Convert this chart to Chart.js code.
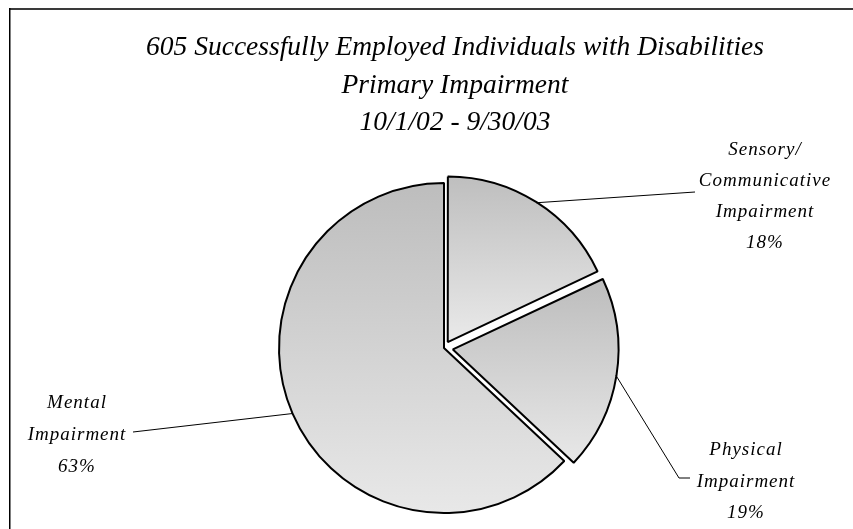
<!DOCTYPE html>
<html>
<head>
<meta charset="utf-8">
<script src="https://cdn.jsdelivr.net/npm/chart.js@4/dist/chart.umd.min.js"></script>
<style>
  html, body { margin: 0; background: #fff; overflow: hidden; }
  canvas { display: block; }
</style>
</head>
<body>
<canvas id="pie" width="853" height="529"></canvas>
<script>
// data
const TITLE_LINES = [
  '605 Successfully Employed Individuals with Disabilities',
  'Primary Impairment',
  '10/1/02 - 9/30/03',
];
const CATEGORIES = ['Sensory/ Communicative Impairment', 'Physical Impairment', 'Mental Impairment'];
const LABEL_LINES = [
  ['Sensory/', 'Communicative', 'Impairment'],
  ['Physical', 'Impairment'],
  ['Mental', 'Impairment'],
];
const PERCENTS = [18, 19, 63];

// look
const FONT = '"Liberation Serif", "Times New Roman", serif';
const SLICE_OFFSET = [28, 36, 0];   // explode (chart.js moves a slice by offset/4)
const GRAD_TOP = '#bdbdbd';
const GRAD_BOTTOM = '#e8e8e8';
// label blocks: centre x, first baseline, line gap, where the leader ends
const LABEL_BOX = [
  { x: 765, y: 155, gap: 31, end: [[695, 192]] },
  { x: 746, y: 455, gap: 31.5, end: [[679, 478], [690, 478]] },
  { x: 77, y: 408, gap: 32, end: [[133, 432]] },
];

// every slice gets its own top-to-bottom gradient
function sliceGradient(ctx) {
  const el = ctx.element;
  if (!el || !el.outerRadius) return GRAD_BOTTOM;
  const mid = (el.startAngle + el.endAngle) / 2;
  const cy = el.y + Math.sin(mid) * SLICE_OFFSET[ctx.dataIndex] / 4;
  let top = cy, bottom = cy;
  for (let k = 0; k <= 60; k++) {
    const a = el.startAngle + (el.endAngle - el.startAngle) * k / 60;
    const y = cy + Math.sin(a) * el.outerRadius;
    top = Math.min(top, y);
    bottom = Math.max(bottom, y);
  }
  const g = ctx.chart.ctx.createLinearGradient(0, top, 0, bottom);
  g.addColorStop(0, GRAD_TOP);
  g.addColorStop(1, GRAD_BOTTOM);
  return g;
}

const frameAndText = {
  id: 'frameAndText',
  beforeDraw(chart) {
    const c = chart.ctx;
    c.save();
    c.fillStyle = '#fff';
    c.fillRect(0, 0, chart.width, chart.height);
    c.restore();
  },
  afterDraw(chart) {
    const c = chart.ctx;
    c.save();
    // frame: grey top edge, black left edge (right/bottom fall outside the window)
    c.fillStyle = '#3a3a3a';
    c.fillRect(9, 8, chart.width, 2);
    c.fillStyle = '#000';
    c.fillRect(9, 8, 1.5, chart.height);

    // title
    c.fillStyle = '#000';
    c.textAlign = 'center';
    c.textBaseline = 'middle';
    c.font = `italic 27.5px ${FONT}`;
    TITLE_LINES.forEach((t, i) => c.fillText(t, 455, 48 + i * 37.5));

    // labels + leaders
    const meta = chart.getDatasetMeta(0);
    c.font = `italic 19px ${FONT}`;
    c.textBaseline = 'alphabetic';
    c.letterSpacing = '1px';
    meta.data.forEach((el, i) => {
      const mid = (el.startAngle + el.endAngle) / 2;
      const t = SLICE_OFFSET[i] / 4;
      const sx = el.x + Math.cos(mid) * (t + el.outerRadius);
      const sy = el.y + Math.sin(mid) * (t + el.outerRadius);
      const box = LABEL_BOX[i];
      c.strokeStyle = '#000';
      c.lineWidth = 1;
      c.beginPath();
      c.moveTo(sx, sy);
      box.end.forEach(([x, y]) => c.lineTo(x, y));
      c.stroke();
      const lines = [...LABEL_LINES[i], PERCENTS[i] + '%'];
      lines.forEach((s, k) => c.fillText(s, box.x, box.y + k * box.gap));
    });
    c.restore();
  },
};

const chart = new Chart(document.getElementById('pie'), {
  type: 'pie',
  data: {
    labels: CATEGORIES,
    datasets: [{
      data: PERCENTS,
      backgroundColor: sliceGradient,
      borderColor: '#000',
      borderWidth: 2,
      offset: SLICE_OFFSET,
      hoverOffset: 0,
      clip: false,
    }],
  },
  options: {
    responsive: false,
    animation: false,
    events: [],
    radius: 165,
    layout: { padding: { left: 35, right: 0, top: 167, bottom: 0 } },
    plugins: {
      legend: { display: false },
      tooltip: { enabled: false },
      title: { display: false },
    },
  },
  plugins: [frameAndText],
});
chart.update();
</script>
</body>
</html>
